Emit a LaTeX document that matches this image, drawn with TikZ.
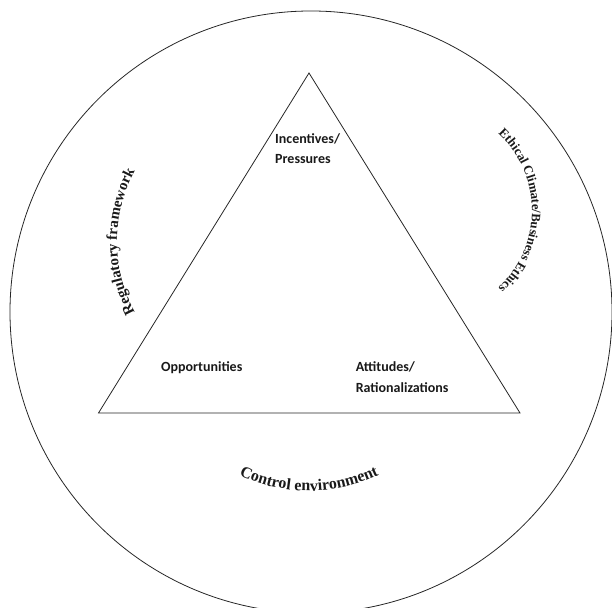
\documentclass[tikz,border=0pt]{standalone}
\usepackage{fontspec}
\newfontfamily\calfont{Carlito}
\newfontfamily\tnrfont{Liberation Serif}
\usetikzlibrary{decorations.text}
\begin{document}
\begin{tikzpicture}[x=1pt,y=1pt,
  outline/.style={line width=0.8pt, draw=black!85},
  lbl/.style={font=\calfont\bfseries\fontsize{14}{20.4}\selectfont, inner sep=0pt, align=left, anchor=base west, text=black!90},
  arctext/.style={decorate, decoration={text along path, text align=center, text color=black!90}}]
\useasboundingbox (0,0) rectangle (612,607);
\coordinate (O) at (311,295);
\draw[outline] (O) circle[radius=301];
\coordinate (A) at (309,534);
\coordinate (B) at (98.5,194);
\coordinate (C) at (520,194);
\draw[outline, line join=miter] (A) -- (B) -- (C) -- cycle;
\node[lbl] (inc) at (275,443) {Incentives/\\Pressures};
\node[lbl] (opp) at (161,235) {Opportunities};
\node[lbl] (att) at (355.6,214.7) {Attitudes/\\Rationalizations};
\coordinate (RC) at (265,365);
\path[arctext, decoration={text={|\tnrfont\bfseries\fontsize{15}{15}\selectfont|Regulatory framework}}] (RC) ++(215:148) arc[start angle=215, end angle=145, radius=148];
\coordinate (EC) at (427,396);
\path[arctext, decoration={text={|\tnrfont\bfseries\fontsize{12.8}{12.8}\selectfont|Ethical Climate/Business Ethics}}] (EC) ++(55:105) arc[start angle=55, end angle=-55, radius=105];
\coordinate (CC) at (309,276);
\path[arctext, decoration={text={|\tnrfont\bfseries\fontsize{16}{16}\selectfont|Control environment}}] (CC) ++(236:160) arc[start angle=236, end angle=304, radius=160];
\end{tikzpicture}
\end{document}
